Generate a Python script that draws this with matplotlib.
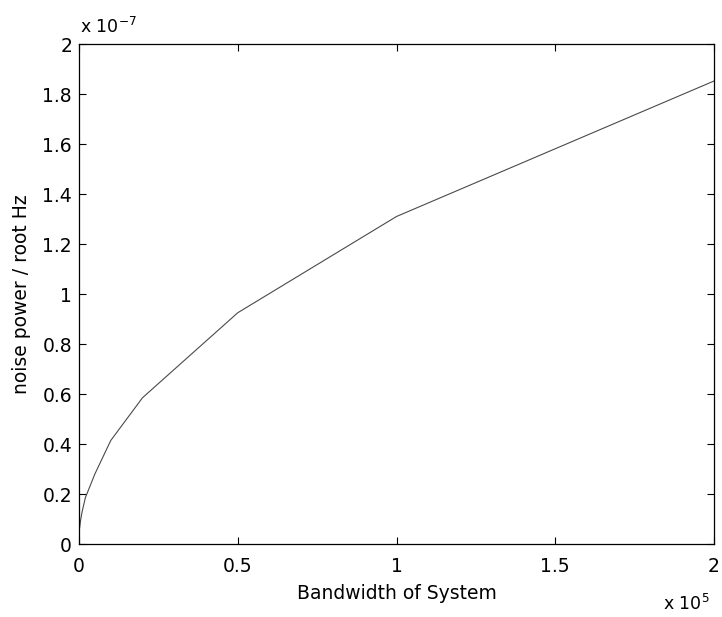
import matplotlib
matplotlib.use("Agg")
import matplotlib.pyplot as plt
from matplotlib.ticker import FuncFormatter

plt.rcParams['font.family'] = ['DejaVu Sans']
plt.rcParams['mathtext.fontset'] = 'dejavusans'

# Data (bandwidth in Hz, noise in V/sqrt(Hz))
bandwidth = [200, 500, 1000, 2000, 5000, 10000, 20000, 50000, 100000, 200000]
noise = [0.065e-7, 0.095e-7, 0.13e-7, 0.185e-7, 0.28e-7, 0.414e-7, 0.585e-7,
         0.925e-7, 1.31e-7, 1.852e-7]

x_ticks = [0, 0.5, 1, 1.5, 2]
y_ticks = [0, 0.2, 0.4, 0.6, 0.8, 1, 1.2, 1.4, 1.6, 1.8, 2]

FS = 13.5
fig = plt.figure(figsize=(7.22, 6.17), dpi=100)
ax = fig.add_axes([79/722, 73/617, 635/722, 500/617])

ax.plot([b / 1e5 for b in bandwidth], [n / 1e-7 for n in noise],
        color='#4a4a4a', lw=0.8)

ax.set_xlim(0, 2)
ax.set_ylim(0, 2)
ax.set_xticks(x_ticks)
ax.set_yticks(y_ticks)
fmt = FuncFormatter(lambda v, p: '%g' % v)
ax.xaxis.set_major_formatter(fmt)
ax.yaxis.set_major_formatter(fmt)
ax.tick_params(direction='in', length=5, width=0.8, top=True, right=True,
               labelsize=FS, colors='black')
ax.tick_params(axis='x', pad=9)
ax.tick_params(axis='y', pad=5)
for s in ax.spines.values():
    s.set_linewidth(0.9)

ax.set_xlabel('Bandwidth of System', fontsize=FS)
ax.set_ylabel('noise power / root Hz', fontsize=FS)
ax.xaxis.set_label_coords(0.5, (544 - 584) / 500)
ax.yaxis.set_label_coords((31 - 79) / 635, 0.5)

fig.text(80/722, 1 - 33/617, r'x 10$^{\mathregular{-7}}$', fontsize=12.5,
         ha='left', va='baseline')
fig.text(663/722, 1 - 610/617, r'x 10$^{\mathregular{5}}$', fontsize=12.5,
         ha='left', va='baseline')

fig.savefig('out.png', dpi=100)
